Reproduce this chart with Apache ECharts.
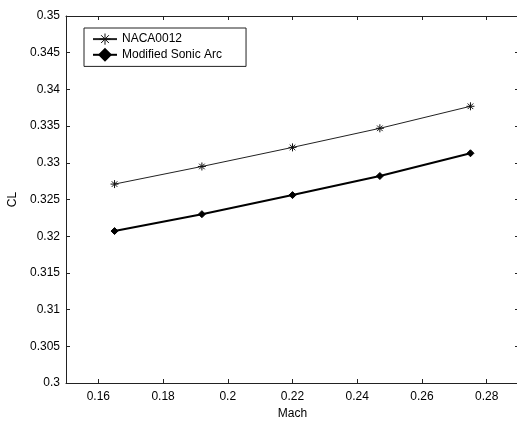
<!DOCTYPE html>
<html>
<head>
<meta charset="utf-8">
<script src="https://cdn.jsdelivr.net/npm/echarts@6/dist/echarts.min.js"></script>
<style>html,body{margin:0;padding:0;background:#fff}#c{width:517px;height:424px}</style>
</head>
<body>
<div id="c"></div>
<script>
var mach = [0.165, 0.192, 0.22, 0.247, 0.275];
var clNaca = [0.3271, 0.3295, 0.3321, 0.3347, 0.3377];
var clSonic = [0.3207, 0.3230, 0.3256, 0.3282, 0.3313];
var xTicks = [0.16, 0.18, 0.2, 0.22, 0.24, 0.26, 0.28];
var seriesNames = ['NACA0012', 'Modified Sonic Arc'];

var font = 'Liberation Sans, Arial, sans-serif';
var axisCol = '#222';
var asterisk = 'path://M0,-5 L0,5 M-5,0 L5,0 M-3.5,-3.5 L3.5,3.5 M-3.5,3.5 L3.5,-3.5';
var diamond = 'path://M0,-5 L5,0 L0,5 L-5,0 Z';

function pairs(xs, ys) { return xs.map(function (x, i) { return [x, ys[i]]; }); }

var chart = echarts.init(document.getElementById('c'), null, {renderer: 'canvas'});
var tickCommon = {show: true, inside: true, length: 4, lineStyle: {color: axisCol, width: 1}};
chart.setOption({
  animation: false,
  backgroundColor: '#fff',
  grid: {left: 66, top: 16, right: -2, bottom: 41, outerBoundsMode: 'none', containLabel: false},
  legend: {
    orient: 'vertical', left: 84, top: 28,
    borderColor: '#222', borderWidth: 1, backgroundColor: '#fff',
    padding: [5, 24, 5, 8], itemGap: 3, itemWidth: 24, itemHeight: 14,
    textStyle: {fontFamily: font, fontSize: 12, color: '#000'},
    data: [
      {name: seriesNames[0], itemStyle: {borderWidth: 1}},
      {name: seriesNames[1]}
    ]
  },
  xAxis: [{
    type: 'value', min: 0.15, max: 0.29, position: 'bottom',
    name: 'Mach', nameLocation: 'middle', nameGap: 24,
    nameTextStyle: {fontFamily: font, fontSize: 12, color: '#000'},
    axisLine: {show: true, lineStyle: {color: axisCol, width: 1}},
    axisTick: Object.assign({customValues: xTicks}, tickCommon),
    axisLabel: {customValues: xTicks, fontFamily: font, fontSize: 12, color: '#000', margin: 8,
      formatter: function (v) { return String(+v.toFixed(2)); }},
    splitLine: {show: false}
  }, {
    type: 'value', min: 0.15, max: 0.29, position: 'top',
    axisLine: {show: true, lineStyle: {color: axisCol, width: 1}},
    axisTick: Object.assign({customValues: xTicks}, tickCommon),
    axisLabel: {show: false}, splitLine: {show: false}
  }],
  yAxis: [{
    type: 'value', min: 0.3, max: 0.35, interval: 0.005, position: 'left',
    name: 'CL', nameLocation: 'middle', nameGap: 43, nameRotate: 90,
    nameTextStyle: {fontFamily: font, fontSize: 12, color: '#000'},
    axisLine: {show: true, lineStyle: {color: axisCol, width: 1}},
    axisTick: tickCommon,
    axisLabel: {fontFamily: font, fontSize: 12, color: '#000', margin: 6,
      formatter: function (v) { return String(+v.toFixed(3)); }},
    splitLine: {show: false}
  }, {
    type: 'value', min: 0.3, max: 0.35, interval: 0.005, position: 'right',
    axisLine: {show: false, lineStyle: {color: axisCol, width: 1}},
    axisTick: tickCommon, axisLabel: {show: false}, splitLine: {show: false}
  }],
  series: [{
    name: seriesNames[0], type: 'line', data: pairs(mach, clNaca),
    symbol: asterisk, symbolSize: 8, showAllSymbol: true,
    lineStyle: {color: '#222', width: 1},
    itemStyle: {color: '#111', borderColor: '#111', borderWidth: 1}
  }, {
    name: seriesNames[1], type: 'line', data: pairs(mach, clSonic),
    symbol: diamond, symbolSize: 7, showAllSymbol: true,
    lineStyle: {color: '#000', width: 2},
    itemStyle: {color: '#000', borderColor: '#000', borderWidth: 1}
  }]
});
</script>
</body>
</html>
